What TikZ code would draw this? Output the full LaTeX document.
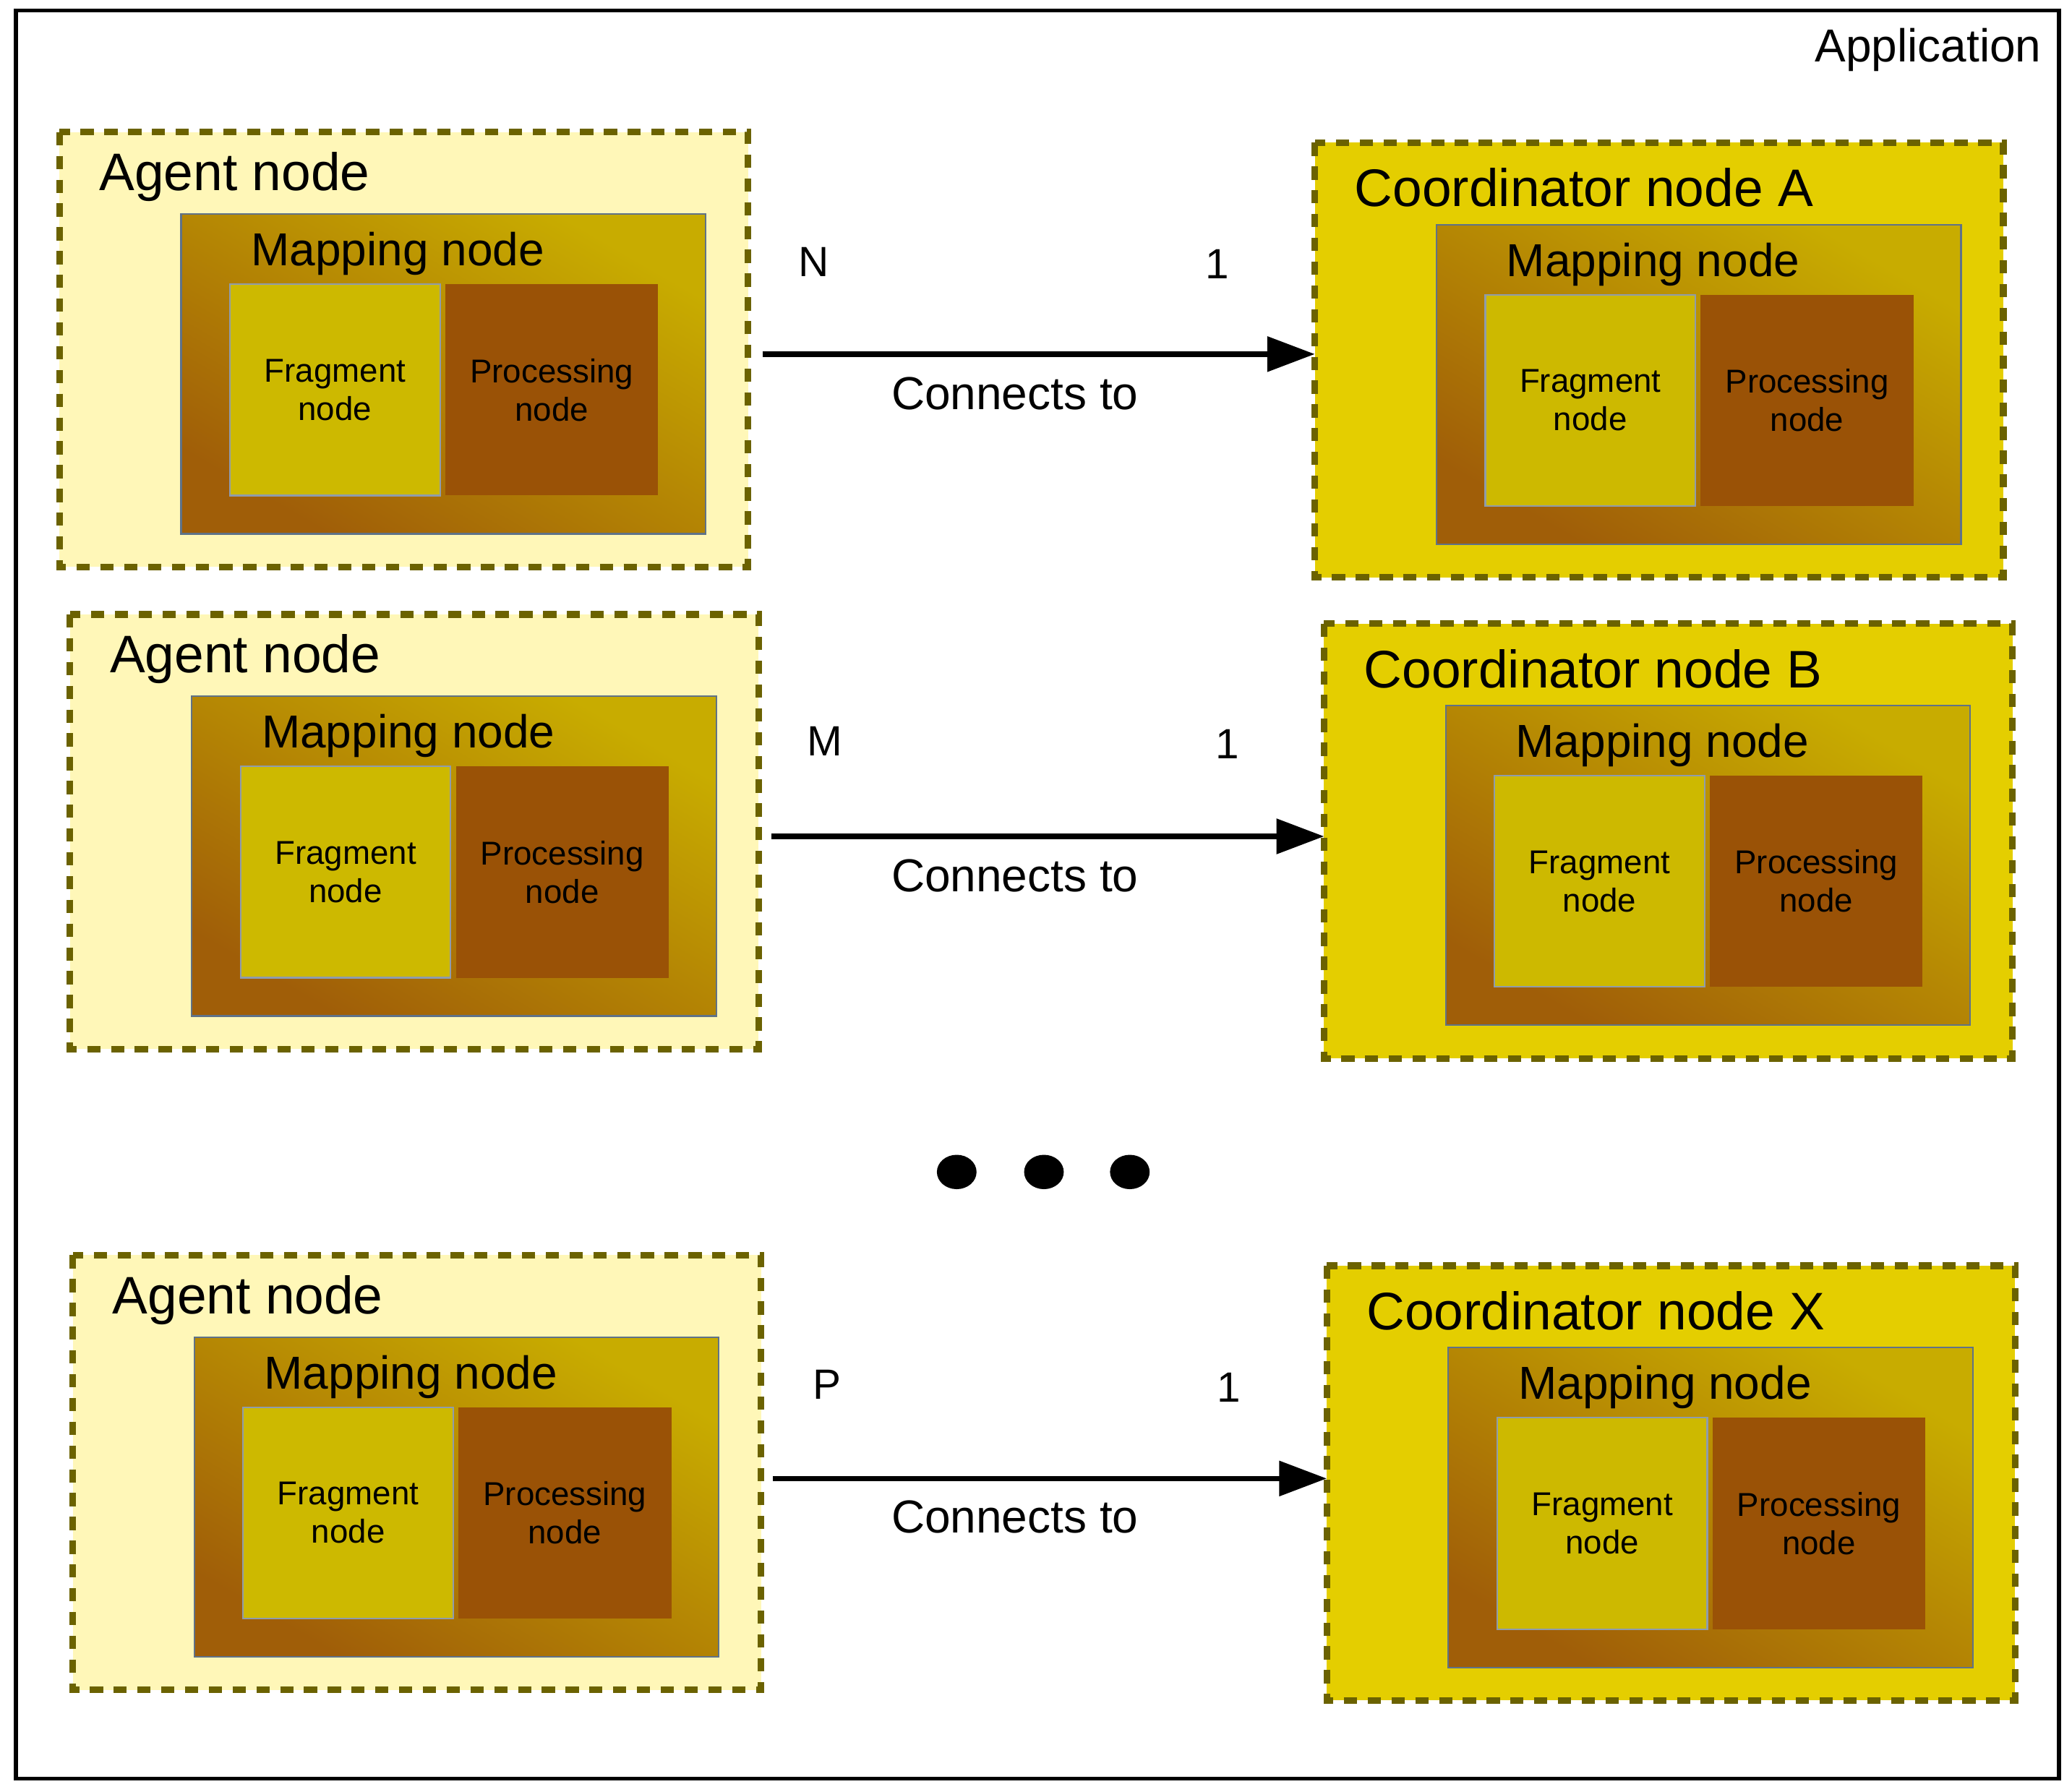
\documentclass[tikz,border=0pt]{standalone}
\usepackage{fontspec}
\setmainfont{Liberation Sans}
\usetikzlibrary{arrows.meta}
\definecolor{agentfill}{HTML}{FFF7B8}
\definecolor{coordfill}{HTML}{E4CE00}
\definecolor{dashcol}{HTML}{6B6200}
\definecolor{mapA}{HTML}{C8AC00}
\definecolor{mapB}{HTML}{A05E08}
\definecolor{fragfill}{HTML}{CDB900}
\definecolor{procfill}{HTML}{9A5206}
\definecolor{edgecol}{HTML}{5F7288}
\tikzset{
  outer/.style={draw=dashcol, line width=5pt, dash pattern=on 10pt off 8pt, inner sep=0pt},
  mapbox/.style={draw=edgecol, line width=1.2pt, left color=mapA, right color=mapB, shading angle=-30},
  frag/.style={draw=edgecol!70, fill=fragfill, line width=1.2pt, align=center, font=\fontsize{25}{29}\selectfont},
  proc/.style={fill=procfill, align=center, font=\fontsize{25}{29}\selectfont},
  big/.style={font=\fontsize{40}{44}\selectfont, anchor=west, inner sep=0pt},
  mid/.style={font=\fontsize{35}{40}\selectfont, inner sep=0pt},
  lab/.style={font=\fontsize{32}{36}\selectfont, inner sep=0pt},
  conn/.style={line width=4pt, -{Triangle[length=36pt,width=26pt]}}
}
% #1 name, #2 x0, #3 y0 (outer top-left), #4 fill, #5 title
\newcommand{\unitbox}[5]{%
  \draw[outer, fill=#4] (#2,#3) rectangle ++(521,-329);
  \coordinate (#1w) at (#2,#3-164.5);
  \coordinate (#1e) at (#2+521,#3-164.5);
  \node[big] (#1t) at (#2+30,#3-34) {#5};
  \shade[mapbox] (#2+92,#3-62) rectangle ++(397,-242);
  \node[mid] (#1m) at (#2+256,#3-92) {Mapping node};
  \node[frag, minimum width=159pt, minimum height=160pt] (#1f) at (#2+208.5,#3-195) {Fragment\\node};
  \node[proc, minimum width=161pt, minimum height=160pt] (#1p) at (#2+372.5,#3-195) {Processing\\node};
}
\begin{document}
\begin{tikzpicture}[x=1pt,y=1pt]
\useasboundingbox (0,0) rectangle (1568,-1356);
\fill[white] (0,0) rectangle (1568,-1356);
\draw[line width=3pt] (12,-8) rectangle (1558,-1346);
\node[mid, anchor=east] (app) at (1545,-38) {Application};
\unitbox{a1}{45}{-100}{agentfill}{Agent node}
\unitbox{a2}{53}{-465}{agentfill}{Agent node}
\unitbox{a3}{55}{-950}{agentfill}{Agent node}
\unitbox{cA}{995}{-108}{coordfill}{Coordinator node A}
\unitbox{cB}{1002}{-472}{coordfill}{Coordinator node B}
\unitbox{cX}{1004}{-958}{coordfill}{Coordinator node X}
\coordinate (s1) at (577,-268); \coordinate (t1) at (995,-268);
\coordinate (s2) at (584,-633); \coordinate (t2) at (1002,-633);
\coordinate (s3) at (585,-1119); \coordinate (t3) at (1004,-1119);
\draw[conn] (s1) -- (t1);
\draw[conn] (s2) -- (t2);
\draw[conn] (s3) -- (t3);
\node[lab] (n1) at (616,-198) {N};
\node[lab] (o1) at (921,-200) {1};
\node[mid] (c1) at (768,-298) {Connects to};
\node[lab] (n2) at (624,-561) {M};
\node[lab] (o2) at (929,-563) {1};
\node[mid] (c2) at (768,-663) {Connects to};
\node[lab] (n3) at (626,-1048) {P};
\node[lab] (o3) at (930,-1050) {1};
\node[mid] (c3) at (768,-1148) {Connects to};
\fill (724,-887) ellipse (15 and 13);
\fill (790,-887) ellipse (15 and 13);
\fill (855,-887) ellipse (15 and 13);
\end{tikzpicture}
\end{document}
